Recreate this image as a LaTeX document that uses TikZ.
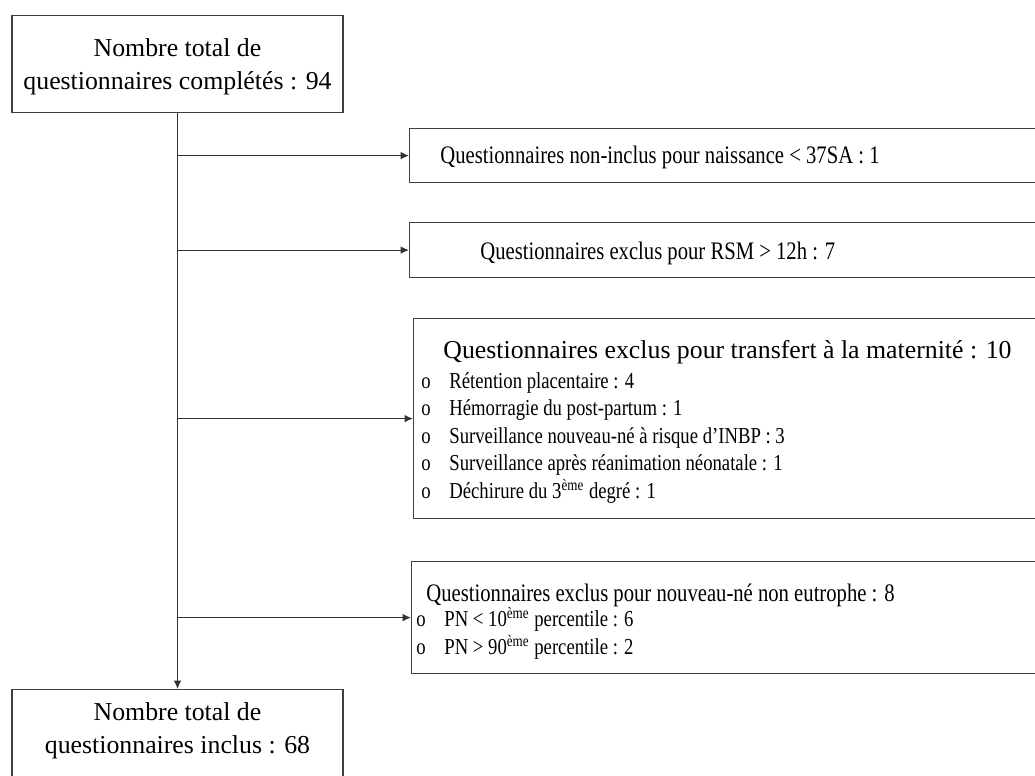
\documentclass[tikz,border=0pt]{standalone}
\usepackage{fontspec}
\setmainfont{Liberation Serif}
\newfontfamily\narrowfont[FakeStretch=0.82]{Liberation Serif}
\usetikzlibrary{arrows.meta}

\tikzset{
  frame/.style={draw=black!75, line width=0.6pt, inner sep=0pt},
  total/.style={frame, align=center, minimum width=165.5pt,
    font=\fontsize{12.9}{16.5}\selectfont},
  exclbox/.style={frame, anchor=north west, minimum width=360pt},
  head/.style={anchor=base west, inner sep=0pt,
    font=\narrowfont\fontsize{12.6}{15}\selectfont},
  widehead/.style={anchor=base west, inner sep=0pt,
    font=\fontsize{12.9}{15}\selectfont},
  item/.style={anchor=base west, inner sep=0pt,
    font=\narrowfont\fontsize{11.4}{13.5}\selectfont},
  flow/.style={draw=black!80, line width=0.6pt, -{Latex[length=4.2pt,width=3.8pt]}}
}
\newcommand{\bul}{\llap{\makebox[14pt][l]{o}}}

\begin{document}
\begin{tikzpicture}[x=0.5pt,y=-0.5pt]
\useasboundingbox (0,0) rectangle (1035,776);

% left column
\node[total, anchor=north, minimum height=48.5pt, text depth=0pt] (complet) at (177.5,15) {Nombre total de\\questionnaires complétés : 94};
\node[total, anchor=north, inner ysep=6.5pt, text depth=60pt] (inclus) at (177.5,689) {Nombre total de\\questionnaires inclus : 68};
\draw[flow] (complet) -- (inclus);

% exclusions
\node[exclbox, minimum height=27pt] (nonincl) at (409,128) {};
\node[head] (noninclt) at (440,163) {Questionnaires non-inclus pour naissance < 37SA : 1};
\draw[flow] (complet.south |- nonincl.west) -- (nonincl.west);

\node[exclbox, minimum height=27.5pt] (rsm) at (409,222) {};
\node[head] (rsmt) at (480,259) {Questionnaires exclus pour RSM > 12h : 7};
\draw[flow] (complet.south |- rsm.west) -- (rsm.west);

\node[exclbox, minimum height=100pt] (transf) at (413,318) {};
\node[widehead] (transft) at (443,358) {Questionnaires exclus pour transfert à la maternité : 10};
\node[item] (transf1) at (449,388) {\bul Rétention placentaire : 4};
\node[item] (transf2) at (449,415.5) {\bul Hémorragie du post-partum : 1};
\node[item] (transf3) at (449,443) {\bul Surveillance nouveau-né à risque d’INBP : 3};
\node[item] (transf4) at (449,470.5) {\bul Surveillance après réanimation néonatale : 1};
\node[item] (transf5) at (449,498) {\bul Déchirure du 3\textsuperscript{ème} degré : 1};
\draw[flow] (complet.south |- transf.west) -- (transf.west);

\node[exclbox, minimum height=56pt] (eutr) at (411,561) {};
\node[head] (eutrt) at (426,601) {Questionnaires exclus pour nouveau-né non eutrophe : 8};
\node[item] (eutr1) at (444,626) {\bul PN < 10\textsuperscript{ème} percentile : 6};
\node[item] (eutr2) at (444,654) {\bul PN > 90\textsuperscript{ème} percentile : 2};
\draw[flow] (complet.south |- eutr.west) -- (eutr.west);

\end{tikzpicture}
\end{document}
